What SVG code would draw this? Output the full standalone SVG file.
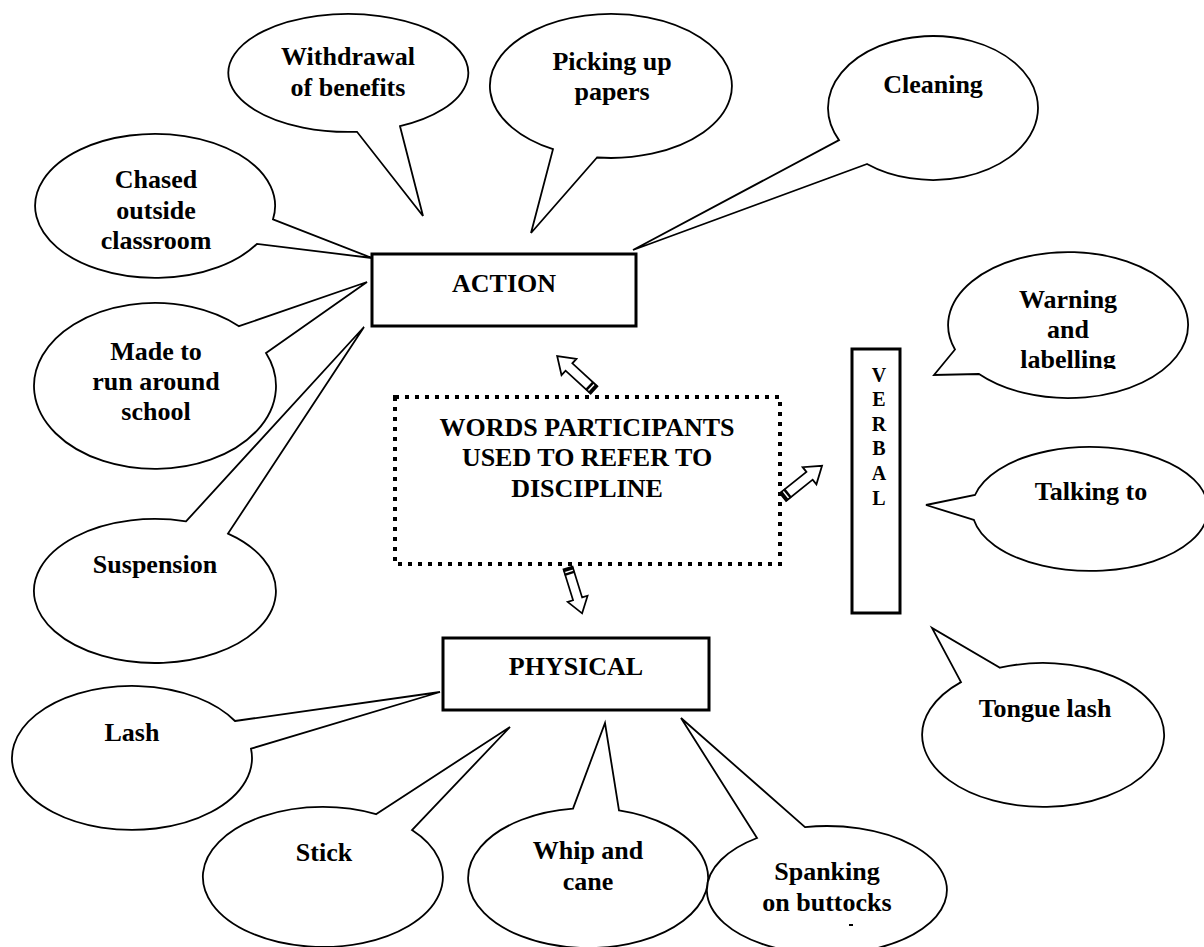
<svg xmlns="http://www.w3.org/2000/svg" width="1204" height="947" viewBox="0 0 1204 947">
<style>
.b{fill:#fff;stroke:#000;stroke-width:1.8;stroke-linejoin:miter}
.box{fill:#fff;stroke:#000;stroke-width:3}
.t{font-family:"Liberation Serif","Times New Roman",serif;font-weight:bold;font-size:26px;fill:#000;text-anchor:middle}
.v{font-size:20px}
.dot{fill:none;stroke:#000;stroke-width:4;stroke-dasharray:4 6}
.ar{fill:#fff;stroke:#000;stroke-width:1.8;stroke-linejoin:miter}
</style>
<defs>
<clipPath id="clipW"><rect x="940" y="240" width="260" height="129"/></clipPath>
<g id="blk">
<polygon class="ar" points="0,-5 34,-5 34,-11 50,0 34,11 34,5 0,5"/>
<rect x="0" y="-5.5" width="3" height="11" fill="#000"/>
<rect x="4.5" y="-5.5" width="2.5" height="11" fill="#000"/>
</g>
</defs>
<rect width="1204" height="947" fill="#fff"/>

<g id="withdrawal">
<path class="b" d="M400,126.2 L423,216 L357,131.8 A120,59 0 1 1 400,126.2 Z"/>
<text class="t" x="348" y="65">Withdrawal</text>
<text class="t" x="348" y="96">of benefits</text>
</g>
<g id="picking">
<path class="b" d="M597,157.5 L531,233 L553,149.2 A121,72 0 1 1 597,157.5 Z"/>
<text class="t" x="612" y="70">Picking up</text>
<text class="t" x="612" y="100">papers</text>
</g>
<g id="cleaning">
<path class="b" d="M867,164 L633,250 L839,140.1 A105,72 0 1 1 867,164 Z"/>
<text class="t" x="933" y="93">Cleaning</text>
</g>
<g id="chased">
<path class="b" d="M273,219.3 L372,258 L257,243.9 A120,72 0 1 1 273,219.3 Z"/>
<text class="t" x="156" y="188">Chased</text>
<text class="t" x="156" y="219">outside</text>
<text class="t" x="156" y="249">classroom</text>
</g>
<g id="madeto">
<path class="b" d="M239,326.2 L367,282 L266,352.9 A121,83 0 1 1 239,326.2 Z"/>
<text class="t" x="156" y="360">Made to</text>
<text class="t" x="156" y="390">run around</text>
<text class="t" x="156" y="420">school</text>
</g>
<g id="suspension">
<path class="b" d="M186,521.4 L364,327 L228,533.6 A121,72 0 1 1 186,521.4 Z"/>
<text class="t" x="155" y="573">Suspension</text>
</g>

<g id="action">
<rect class="box" x="372" y="254" width="264" height="72"/>
<text class="t" x="504" y="292">ACTION</text>
</g>

<g id="center">
<rect class="dot" x="395" y="397" width="385" height="167"/>
<text class="t" x="587" y="436">WORDS PARTICIPANTS</text>
<text class="t" x="587" y="466">USED TO REFER TO</text>
<text class="t" x="587" y="497">DISCIPLINE</text>
</g>

<g id="verbal">
<rect class="box" x="852" y="349" width="48" height="264"/>
<text class="t v" x="879" y="382">V</text>
<text class="t v" x="879" y="406">E</text>
<text class="t v" x="879" y="431">R</text>
<text class="t v" x="879" y="455">B</text>
<text class="t v" x="879" y="480">A</text>
<text class="t v" x="879" y="505">L</text>
</g>

<g id="warning">
<path class="b" d="M979,374 L934,375 L955,349.5 A120,73 0 1 1 979,374 Z"/>
<g clip-path="url(#clipW)">
<text class="t" x="1068" y="308">Warning</text>
<text class="t" x="1068" y="338">and</text>
<text class="t" x="1068" y="368">labelling</text>
</g>
</g>
<g id="talking">
<path class="b" d="M973.8,519.8 L926,505 L975,495 A118,62 0 1 1 973.8,519.8 Z"/>
<text class="t" x="1091" y="500">Talking to</text>
</g>
<g id="tongue">
<path class="b" d="M961,682.1 L932,628 L1000,667.7 A121,72 0 1 1 961,682.1 Z"/>
<text class="t" x="1045" y="717">Tongue lash</text>
</g>

<g id="physical">
<rect class="box" x="443" y="638" width="266" height="72"/>
<text class="t" x="576" y="675">PHYSICAL</text>
</g>

<g id="lash">
<path class="b" d="M235,721 L440,692 L251,748.7 A120,72 0 1 1 235,721 Z"/>
<text class="t" x="132" y="741">Lash</text>
</g>
<g id="stick">
<path class="b" d="M376,814.2 L510,727 L412,830.1 A120,70 0 1 1 376,814.2 Z"/>
<text class="t" x="324" y="861">Stick</text>
</g>
<g id="whip">
<path class="b" d="M573,808.6 L605,723 L619,810.4 A120,70 0 1 1 573,808.6 Z"/>
<text class="t" x="588" y="859">Whip and</text>
<text class="t" x="588" y="890">cane</text>
</g>
<g id="spanking">
<path class="b" d="M757,838 L681,718 L805,827.1 A120,64 0 1 1 757,838 Z"/>
<text class="t" x="827" y="880">Spanking</text>
<text class="t" x="827" y="911">on buttocks</text>
<rect x="849" y="924" width="4" height="2" fill="#000"/>
</g>

<g id="connectors">
<use href="#blk" transform="translate(594,390) rotate(222.6)"/>
<use href="#blk" transform="translate(783,497) rotate(-38.7)"/>
<use href="#blk" transform="translate(568,568) rotate(72.7) scale(0.95)"/>
</g>
</svg>
